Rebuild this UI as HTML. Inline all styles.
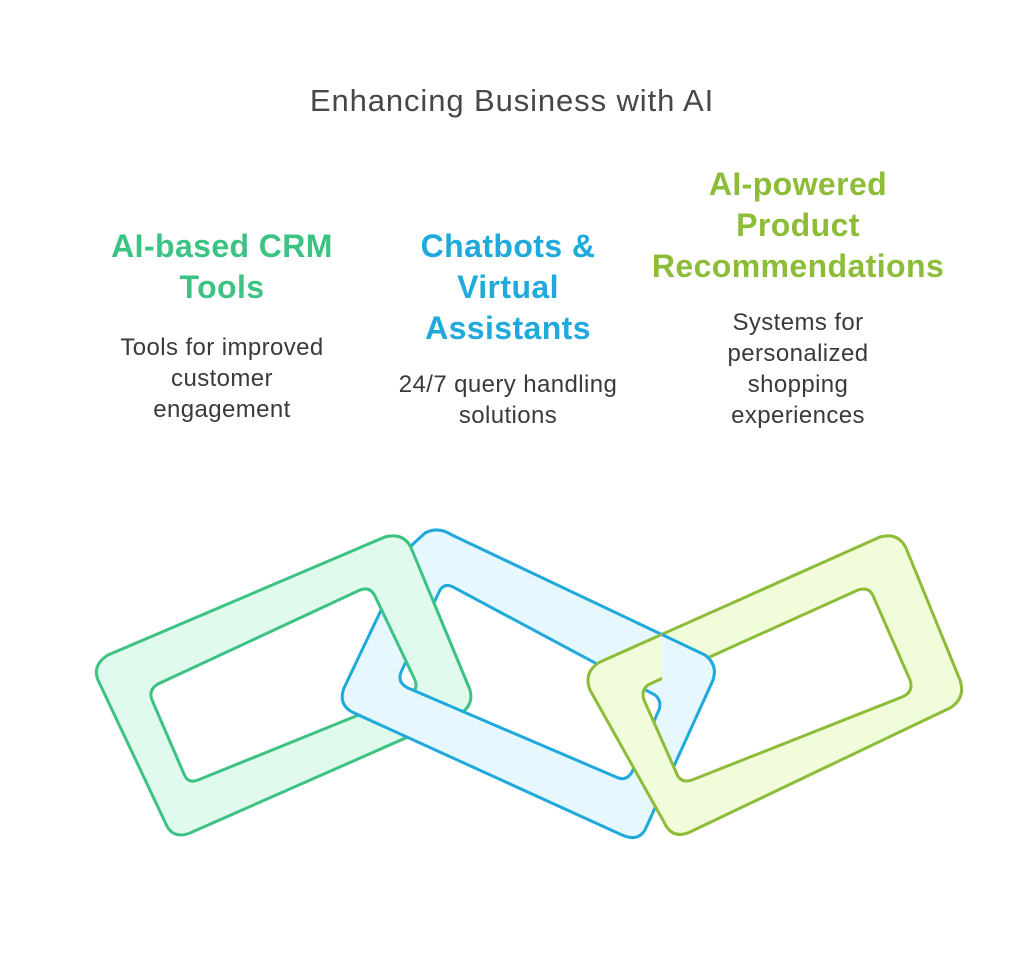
<!DOCTYPE html>
<html><head><meta charset="utf-8"><style>
body{margin:0;width:1024px;height:963px;background:#fff;font-family:"Liberation Sans",sans-serif;position:relative;overflow:hidden}
.t{position:absolute;text-align:center;width:340px}
h1{position:absolute;top:83px;left:0;width:1024px;text-align:center;font-weight:normal;font-size:31px;letter-spacing:0.9px;color:#474747;margin:0}
.h{font-weight:bold;font-size:32px;line-height:41px;letter-spacing:0.4px}
.b{font-size:24px;line-height:31px;color:#3a3a3a;letter-spacing:0.4px}
</style></head><body>
<h1>Enhancing Business with AI</h1>
<div class="t" style="left:52px;top:226px"><div class="h" style="color:#3cc383">AI-based CRM<br>Tools</div><div class="b" style="margin-top:24px">Tools for improved<br>customer<br>engagement</div></div>
<div class="t" style="left:338px;top:226px"><div class="h" style="color:#1fa9dc">Chatbots &amp;<br>Virtual<br>Assistants</div><div class="b" style="margin-top:20px">24/7 query handling<br>solutions</div></div>
<div class="t" style="left:628px;top:164px"><div class="h" style="color:#8dbd38">AI-powered<br>Product<br>Recommendations</div><div class="b" style="margin-top:20px">Systems for<br>personalized<br>shopping<br>experiences</div></div>
<svg width="1024" height="963" style="position:absolute;left:0;top:0" stroke-linejoin="round" stroke-width="3">
<defs>
<path id="g" fill-rule="evenodd" fill="#e0fbee" stroke="#3cc383" d="M385 537 Q405 532 412 550 L470 690 Q474 705 460 714 L190 833 Q172 840 165 822 L98 680 Q92 665 108 655 Z M360 590 Q370 586 375 596 L415 680 Q419 690 408 695 L198 780 Q188 784 184 774 L152 700 Q148 690 158 684 Z"/>
<path id="bl" fill-rule="evenodd" fill="#e6f8fd" stroke="#1fa9dc" d="M425 533 Q438 526 452 535 L705 655 Q718 665 713 680 L645 830 Q638 842 622 835 L352 712 Q338 704 344 688 L412 545 Z M440 590 Q445 582 455 588 L655 695 Q663 702 658 712 L632 772 Q626 782 616 777 L408 688 Q396 682 402 670 Z"/>
<path id="l" fill-rule="evenodd" fill="#f1fcda" stroke="#8dbd38" d="M880 537 Q898 532 906 548 L960 680 Q966 698 950 708 L690 832 Q672 840 664 822 L590 690 Q583 672 600 662 Z M858 590 Q870 586 874 598 L910 680 Q914 692 902 697 L692 780 Q680 784 676 772 L644 700 Q640 688 652 683 Z"/>
<clipPath id="c1"><polygon points="360,520 490,520 490,690 425,688 360,620"/></clipPath>
<clipPath id="c2"><polygon points="662,590 740,590 740,700 664,704 662,684"/></clipPath>
</defs>
<use href="#g"/>
<use href="#bl"/>
<use href="#g" clip-path="url(#c1)"/>
<use href="#l"/>
<use href="#bl" clip-path="url(#c2)"/>
</svg>
</body></html>
